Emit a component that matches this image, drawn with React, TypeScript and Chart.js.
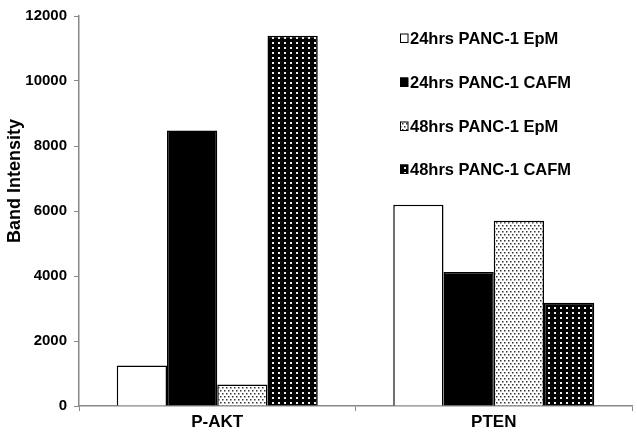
import React, { useEffect, useRef } from "react";
import { Chart, registerables } from "chart.js";

Chart.register(...registerables);

const categories = ["P-AKT", "PTEN"];
const seriesLabels = [
  "24hrs PANC-1 EpM",
  "24hrs PANC-1 CAFM",
  "48hrs PANC-1 EpM",
  "48hrs PANC-1 CAFM",
];
const epm24 = [1250, 6190];
const cafm24 = [8480, 4120];
const epm48 = [660, 5700];
const cafm48 = [11390, 3180];
const yTicks = [0, 2000, 4000, 6000, 8000, 10000, 12000];
const yTitle = "Band Intensity";

const FONT = "'Liberation Sans', Arial, sans-serif";

function lightPattern(): CanvasPattern | string {
  const c = document.createElement("canvas");
  c.width = 4;
  c.height = 6;
  const g = c.getContext("2d");
  if (!g) return "#ddd";
  g.fillStyle = "#ffffff";
  g.fillRect(0, 0, 4, 6);
  g.fillStyle = "#333333";
  g.fillRect(0, 0, 1.5, 1.5);
  g.fillRect(2, 3, 1.5, 1.5);
  return g.createPattern(c, "repeat") as CanvasPattern;
}

function darkPattern(): CanvasPattern | string {
  const c = document.createElement("canvas");
  c.width = 6;
  c.height = 5;
  const g = c.getContext("2d");
  if (!g) return "#111";
  g.fillStyle = "#000000";
  g.fillRect(0, 0, 6, 5);
  g.fillStyle = "#f0f0f0";
  g.fillRect(2, 2, 2, 2);
  return g.createPattern(c, "repeat") as CanvasPattern;
}

export default function App() {
  const ref = useRef<HTMLCanvasElement | null>(null);

  useEffect(() => {
    if (!ref.current) return;
    const fills = ["#ffffff", "#000000", lightPattern(), darkPattern()];
    const values = [epm24, cafm24, epm48, cafm48];

    const legendPlugin = {
      id: "customLegend",
      afterDraw(chart: any) {
        const ctx = chart.ctx as CanvasRenderingContext2D;
        const ys = [38, 82, 126, 169];
        ctx.save();
        chart.data.datasets.forEach((ds: any, i: number) => {
          const y = ys[i];
          ctx.fillStyle = ds.backgroundColor;
          ctx.fillRect(400, y - 4.5, 8, 9);
          ctx.strokeStyle = "#000";
          ctx.lineWidth = 1;
          ctx.strokeRect(400.5, y - 4, 7.5, 8.5);
          ctx.fillStyle = "#000";
          ctx.font = `bold 16.5px ${FONT}`;
          ctx.textBaseline = "middle";
          ctx.textAlign = "left";
          ctx.fillText(ds.label, 410, y + 1);
        });
        // y axis title
        ctx.translate(15, 181);
        ctx.rotate(-Math.PI / 2);
        ctx.font = `bold 18px ${FONT}`;
        ctx.textAlign = "center";
        ctx.textBaseline = "middle";
        ctx.fillText(yTitle, 0, 0);
        ctx.restore();
      },
    };

    const chart = new Chart(ref.current, {
      type: "bar",
      data: {
        labels: categories,
        datasets: seriesLabels.map((label, i) => ({
          label,
          data: values[i],
          backgroundColor: fills[i] as any,
          borderColor: "#000000",
          borderWidth: 1.5,
          categoryPercentage: 0.727,
          barPercentage: 1,
        })),
      },
      options: {
        animation: false,
        responsive: false,
        layout: { padding: { top: 10, right: 5, left: 0, bottom: 0 } },
        plugins: {
          legend: { display: false },
          tooltip: { enabled: false },
        },
        scales: {
          x: {
            grid: {
              display: true,
              drawOnChartArea: false,
              drawTicks: true,
              tickLength: 5,
              color: "#888888",
              offset: true,
            },
            border: { color: "#888888", width: 1.5 },
            ticks: {
              color: "#000",
              font: { family: FONT, size: 17, weight: "bold" },
              padding: 1,
            },
            afterFit: (s: any) => {
              s.height = 30;
            },
          },
          y: {
            min: 0,
            max: 12000,
            afterBuildTicks: (s: any) => {
              s.ticks = yTicks.map((v) => ({ value: v }));
            },
            grid: {
              display: true,
              drawOnChartArea: false,
              drawTicks: true,
              tickLength: 5,
              color: "#888888",
            },
            border: { color: "#888888", width: 1.5 },
            ticks: {
              color: "#000",
              font: { family: FONT, size: 15, weight: "bold" },
              padding: 7,
              callback: (v: any) => String(v),
            },
            afterFit: (s: any) => {
              s.width = 79;
            },
          },
        },
      },
      plugins: [legendPlugin],
    });
    return () => chart.destroy();
  }, []);

  return (
    <div style={{ position: "fixed", left: 0, top: 0, width: 637, height: 436, background: "#fff" }}>
      <canvas ref={ref} width={637} height={436} style={{ width: 637, height: 436, display: "block" }} />
    </div>
  );
}
